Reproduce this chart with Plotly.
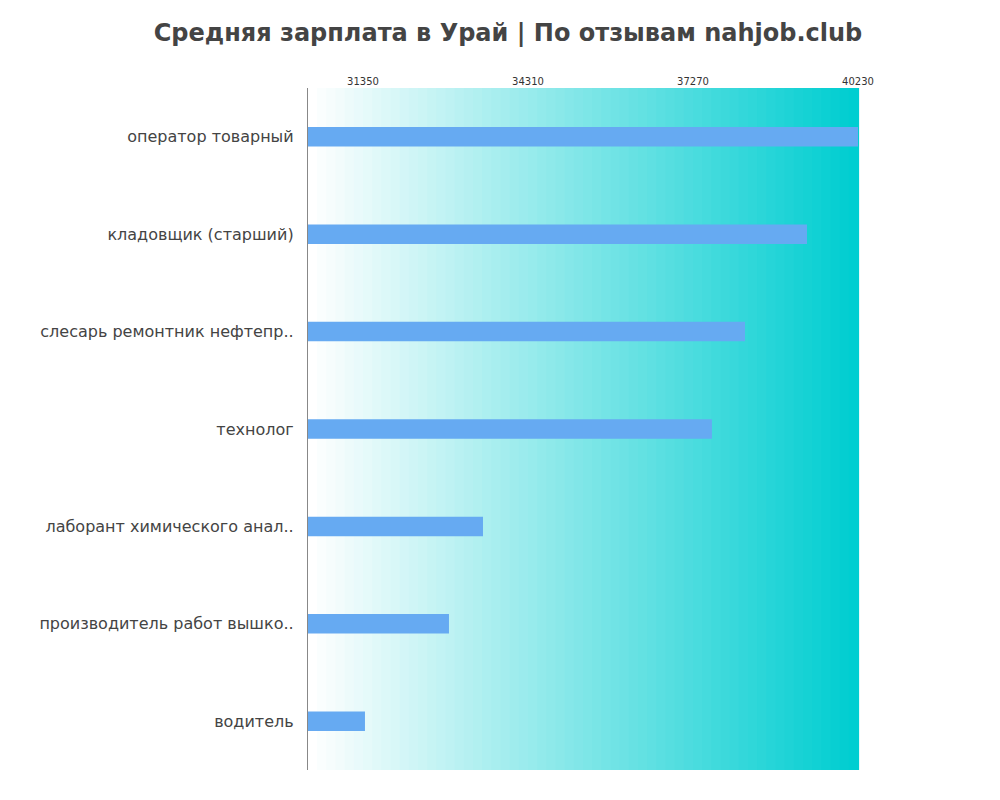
import plotly.graph_objects as go

categories = ["оператор товарный", "кладовщик (старший)", "слесарь ремонтник нефтепр..",
              "технолог", "лаборант химического анал..", "производитель работ вышко..", "водитель"]
values = [40230, 39315, 38203, 37610, 33503, 32893, 31386]
tick_vals = [31350, 34310, 37270, 40230]

fig = go.Figure(go.Bar(x=values, y=categories, orientation="h", width=0.2,
                       marker=dict(color="#66aaf2", line=dict(width=0))))

shapes = []
n = 60
for i in range(n):
    t = i / (n - 1)
    r = int(255 + (0 - 255) * t)
    g = int(255 + (206 - 255) * t)
    b = int(255 + (209 - 255) * t)
    shapes.append(dict(type="rect", xref="x domain", yref="y domain",
                       x0=i / n, x1=(i + 1) / n + 0.002, y0=0, y1=1,
                       fillcolor=f"rgb({r},{g},{b})", line=dict(width=0), layer="below"))

fig.update_layout(
    width=1000, height=800, paper_bgcolor="white", plot_bgcolor="white",
    margin=dict(l=300, r=150, t=80, b=38),
    title=dict(text="<b>Средняя зарплата в Урай | По отзывам nahjob.club</b>", x=0.5, y=0.98,
               xanchor="center", font=dict(size=24, color="#444", family="DejaVu Sans")),
    shapes=shapes, showlegend=False, bargap=0.8,
    font=dict(family="DejaVu Sans", color="#444"),
)
fig.update_xaxes(side="top", range=[30364, 40230], tickvals=tick_vals,
                 ticktext=[str(v) for v in tick_vals], tickfont=dict(size=10, color="#333"),
                 showgrid=False, zeroline=False, ticks="")
fig.update_yaxes(autorange="reversed", tickfont=dict(size=16, color="#444"),
                 showline=True, linecolor="#888", linewidth=1, ticks="", ticksuffix="  ")
fig.write_html("out.html")
